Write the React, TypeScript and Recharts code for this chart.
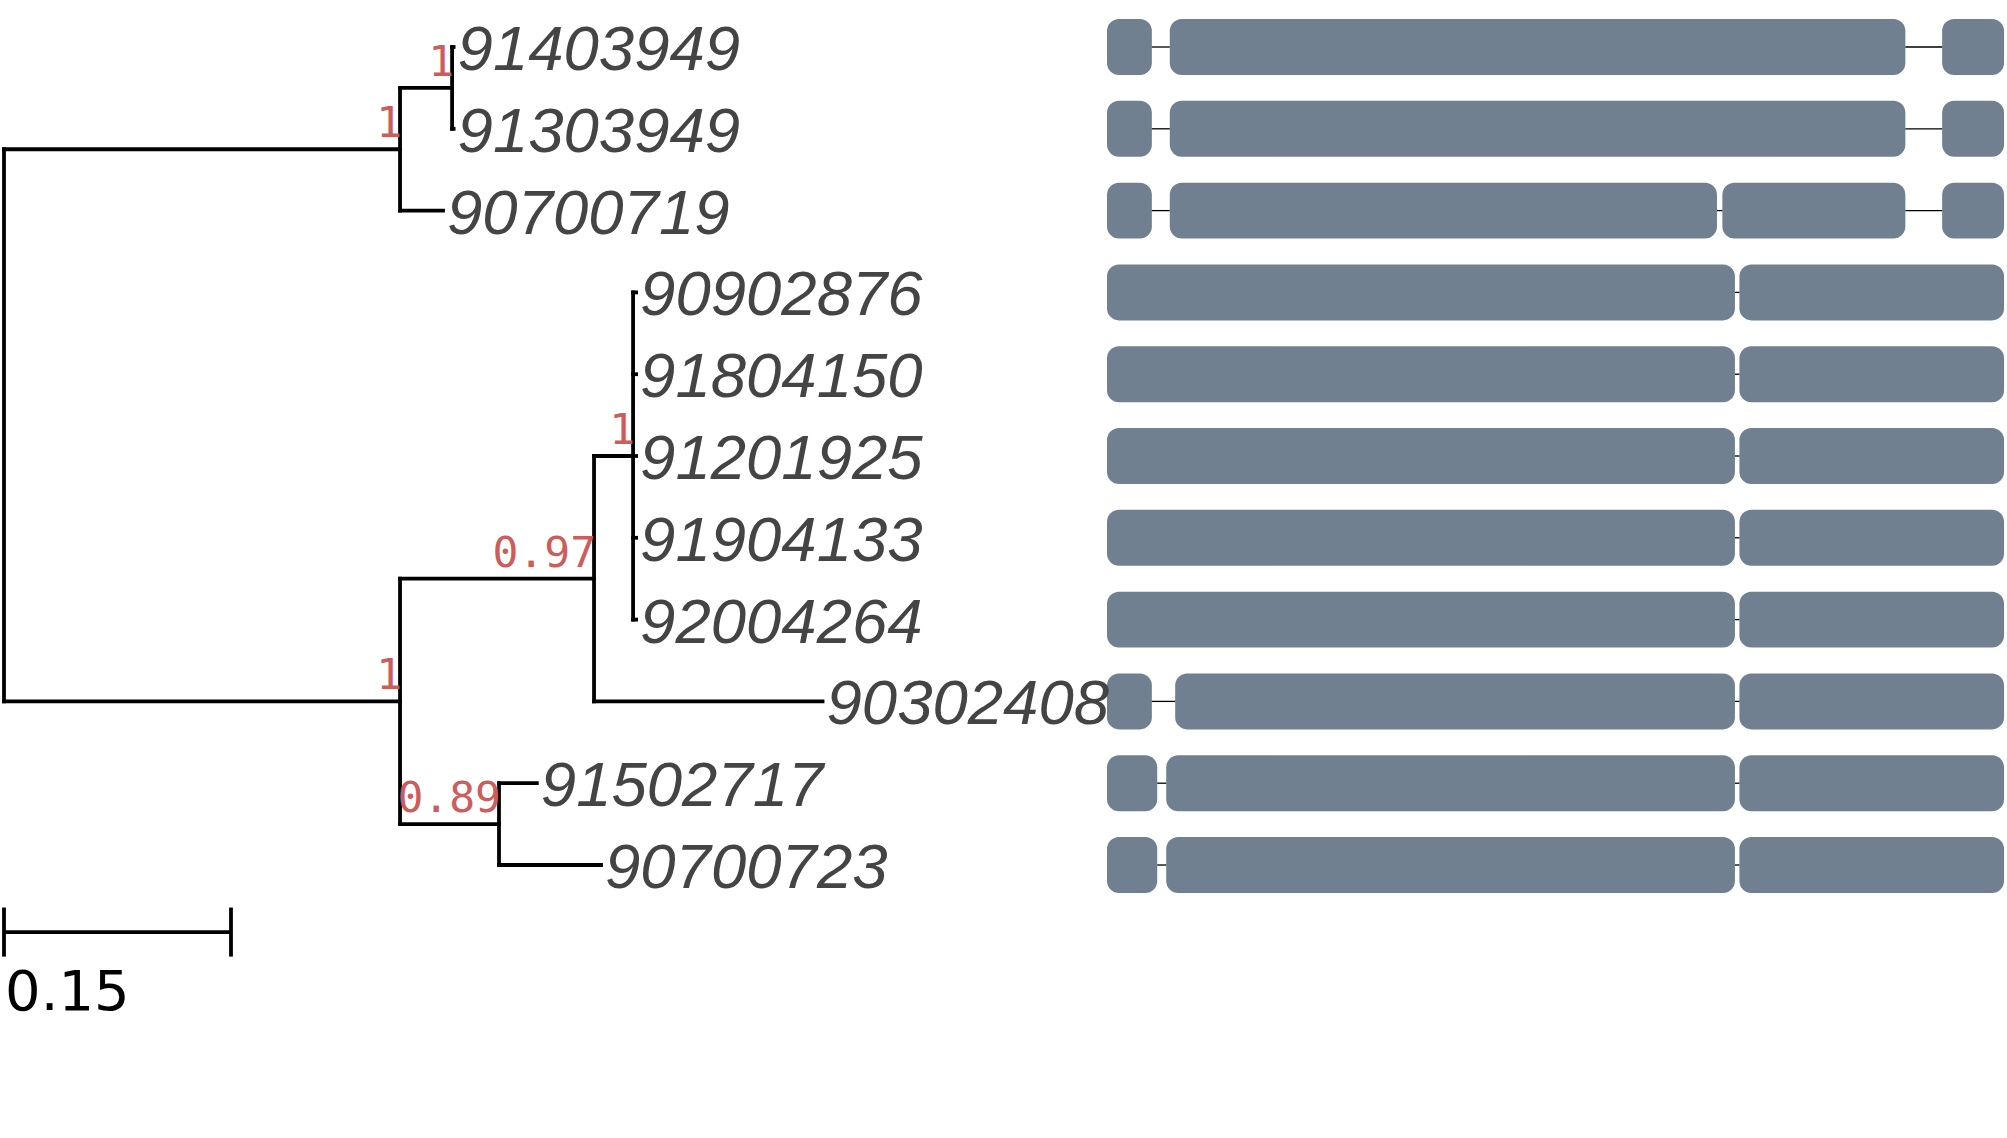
import React from "react"
import { ComposedChart, XAxis, YAxis, Scatter, ReferenceLine, ReferenceArea } from "recharts"

// leaves, top to bottom
const leafLabels = [
  "91403949", "91303949", "90700719", "90902876", "91804150", "91201925",
  "91904133", "92004264", "90302408", "91502717", "90700723",
]

// tree edges (parent -> child, branch length)
const edgeParent = ["root", "root", "A", "A", "B", "B", "C", "C", "D", "D", "E", "E", "E", "E", "E", "F", "F"]
const edgeChild = [
  "A", "C", "B", "90700719", "91403949", "91303949", "D", "F", "E", "90302408",
  "90902876", "91804150", "91201925", "91904133", "92004264", "91502717", "90700723",
]
const edgeLength = [
  0.2617, 0.2617, 0.0344, 0.0284, 0.001, 0.001, 0.1282, 0.0654, 0.0258, 0.151,
  0.002, 0.002, 0.002, 0.002, 0.002, 0.025, 0.0674,
]

// bootstrap / posterior support on internal nodes
const supportNodes = ["B", "A", "E", "D", "C", "F"]
const supportValues = ["1", "1", "1", "0.97", "1", "0.89"]

// gene structure per leaf (relative coordinates, 0..1000)
const exonStarts = [
  [0, 70, 931], [0, 70, 931], [0, 70, 686, 931],
  [0, 705], [0, 705], [0, 705], [0, 705], [0, 705],
  [0, 76, 705], [0, 66, 705], [0, 66, 705],
]
const exonEnds = [
  [50, 890, 1000], [50, 890, 1000], [50, 680, 890, 1000],
  [700, 1000], [700, 1000], [700, 1000], [700, 1000], [700, 1000],
  [50, 700, 1000], [56, 700, 1000], [56, 700, 1000],
]

const scaleBar = 0.15

// layout
const W = 2007
const H = 1138
const TREE_DOMAIN: [number, number] = [0, 1.3236]
const GENE_DOMAIN: [number, number] = [-1229.6, 1003.3]
const Y_DOMAIN: [number, number] = [-0.5746, 13.3374]
const BAR_HALF = 0.342
const SCALE_ROW = 10.82
const SCALE_TICK = 0.3
const SCALE_LABEL_ROW = 11.77

const LINE = "#000000"
const EXON = "#708090"
const SUPPORT = "#CD5C5C"
const LABEL = "#444444"

function layoutTree() {
  const children: Record<string, string[]> = {}
  const len: Record<string, number> = {}
  edgeParent.forEach((p, i) => {
    if (!children[p]) children[p] = []
    children[p].push(edgeChild[i])
    len[edgeChild[i]] = edgeLength[i]
  })
  const x: Record<string, number> = {}
  const y: Record<string, number> = {}
  const visit = (id: string, depth: number) => {
    x[id] = depth
    const kids = children[id]
    if (!kids) {
      y[id] = leafLabels.indexOf(id)
      return
    }
    kids.forEach((k) => visit(k, depth + len[k]))
    y[id] = kids.reduce((s, k) => s + y[k], 0) / kids.length
  }
  visit("root", 0)
  return { children, x, y }
}

const { children, x: nodeX, y: nodeY } = layoutTree()

const horizontalSegs = edgeChild.map((c, i) => [
  { x: nodeX[edgeParent[i]], y: nodeY[c] },
  { x: nodeX[c], y: nodeY[c] },
])
const verticalSegs = Object.keys(children).map((n) => {
  const ys = children[n].map((k) => nodeY[k])
  return [
    { x: nodeX[n], y: Math.min(...ys) },
    { x: nodeX[n], y: Math.max(...ys) },
  ]
})

const leafPoints = leafLabels.map((l) => ({ x: nodeX[l], y: nodeY[l], label: l }))
const supportPoints = supportNodes.map((n, i) => ({ x: nodeX[n], y: nodeY[n], label: supportValues[i] }))
const scaleLabel = [{ x: 0, y: SCALE_LABEL_ROW, label: String(scaleBar) }]

const LeafLabel = (props: any) => (
  <text
    x={props.cx + 4}
    y={props.cy + 23}
    fontFamily="'Liberation Sans', Arial, sans-serif"
    fontStyle="italic"
    fontSize={63.5}
    fill={LABEL}
  >
    {props.payload.label}
  </text>
)

const SupportLabel = (props: any) => (
  <text
    x={props.cx + 2}
    y={props.cy - 12}
    textAnchor="end"
    fontFamily="'DejaVu Sans Mono', monospace"
    fontSize={43}
    fill={SUPPORT}
  >
    {props.payload.label}
  </text>
)

const ScaleLabel = (props: any) => (
  <text x={props.cx + 1} y={props.cy} fontFamily="'DejaVu Sans', sans-serif" fontSize={56} fill="#000">
    {props.payload.label}
  </text>
)

const ExonShape = (props: any) => (
  <rect x={props.x} y={props.y} width={props.width} height={props.height} rx={12} ry={12} fill={EXON} />
)

export default function App() {
  return (
    <div style={{ position: "absolute", left: 0, top: 0, background: "#fff" }}>
      <ComposedChart width={W} height={H} margin={{ top: 0, right: 0, bottom: 0, left: 4 }}>
        <XAxis xAxisId="tree" type="number" dataKey="x" domain={TREE_DOMAIN} allowDataOverflow hide />
        <XAxis xAxisId="gene" type="number" dataKey="x" domain={GENE_DOMAIN} allowDataOverflow hide />
        <YAxis type="number" dataKey="y" domain={Y_DOMAIN} allowDataOverflow reversed hide />

        {/* introns */}
        {exonStarts.map((starts, r) =>
          starts.slice(1).map((s, j) => (
            <ReferenceLine
              key={`intron-${r}-${j}`}
              xAxisId="gene"
              segment={[{ x: exonEnds[r][j], y: r }, { x: s, y: r }]}
              stroke={LINE}
              strokeWidth={1.3}
            />
          ))
        )}
        {/* exons */}
        {exonStarts.map((starts, r) =>
          starts.map((s, j) => (
            <ReferenceArea
              key={`exon-${r}-${j}`}
              xAxisId="gene"
              x1={s}
              x2={exonEnds[r][j]}
              y1={r - BAR_HALF}
              y2={r + BAR_HALF}
              shape={ExonShape}
            />
          ))
        )}

        {/* tree branches */}
        {horizontalSegs.map((seg, i) => (
          <ReferenceLine key={`h-${i}`} xAxisId="tree" segment={seg} stroke={LINE} strokeWidth={3.8} strokeLinecap="square" />
        ))}
        {verticalSegs.map((seg, i) => (
          <ReferenceLine key={`v-${i}`} xAxisId="tree" segment={seg} stroke={LINE} strokeWidth={3.8} strokeLinecap="square" />
        ))}

        {/* scale bar */}
        <ReferenceLine xAxisId="tree" segment={[{ x: 0, y: SCALE_ROW }, { x: scaleBar, y: SCALE_ROW }]} stroke={LINE} strokeWidth={3.8} />
        <ReferenceLine
          xAxisId="tree"
          segment={[{ x: 0, y: SCALE_ROW - SCALE_TICK }, { x: 0, y: SCALE_ROW + SCALE_TICK }]}
          stroke={LINE}
          strokeWidth={3.8}
        />
        <ReferenceLine
          xAxisId="tree"
          segment={[{ x: scaleBar, y: SCALE_ROW - SCALE_TICK }, { x: scaleBar, y: SCALE_ROW + SCALE_TICK }]}
          stroke={LINE}
          strokeWidth={3.8}
        />

        <Scatter xAxisId="tree" data={leafPoints} shape={LeafLabel} isAnimationActive={false} />
        <Scatter xAxisId="tree" data={supportPoints} shape={SupportLabel} isAnimationActive={false} />
        <Scatter xAxisId="tree" data={scaleLabel} shape={ScaleLabel} isAnimationActive={false} />
      </ComposedChart>
    </div>
  )
}
